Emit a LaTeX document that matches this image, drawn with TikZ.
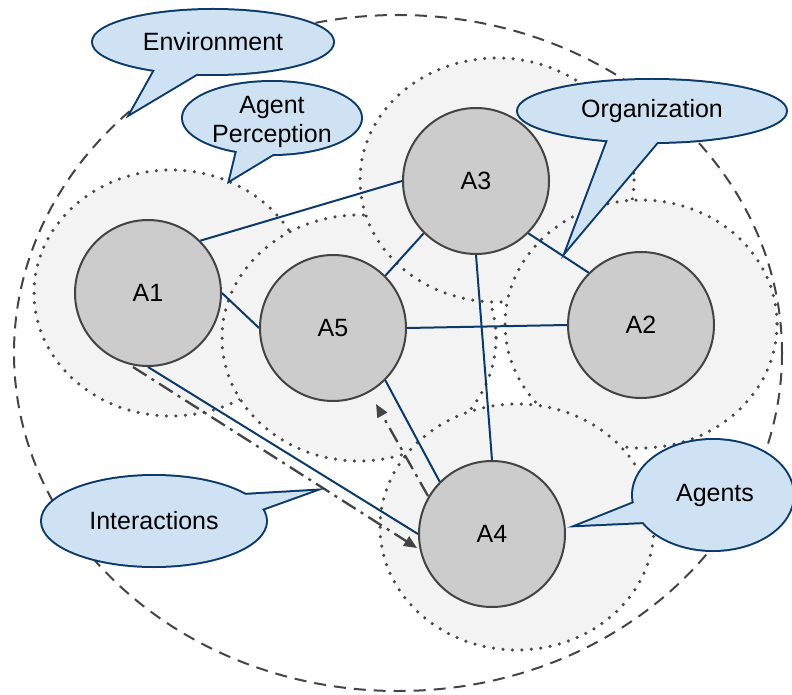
\documentclass[tikz,border=0pt]{standalone}
\usepackage{fontspec}
\setmainfont{Liberation Sans}
\usetikzlibrary{arrows.meta}
\definecolor{navy}{HTML}{0B3A6A}
\definecolor{agentfill}{HTML}{CCCCCC}
\definecolor{agentline}{HTML}{444444}
\definecolor{regionfill}{HTML}{F3F3F3}
\definecolor{dotcol}{HTML}{484848}
\definecolor{callfill}{HTML}{CFE2F3}
\definecolor{envcol}{HTML}{444444}
\begin{document}
\begin{tikzpicture}[x=1pt,y=-1pt,
  agent/.style={circle,draw=agentline,line width=2pt,fill=agentfill,minimum size=146pt,inner sep=0pt,font=\fontsize{25}{30}\selectfont},
  region/.style={fill=regionfill,draw=dotcol,line width=3.5pt,line cap=round,dash pattern=on 0pt off 9.5pt},
  link/.style={draw=navy,line width=2pt},
  flow/.style={draw=envcol,line width=2.3pt,dash pattern=on 16pt off 6pt on 3pt off 6pt,-{Triangle[length=13pt,width=11pt]}},
  cout/.style={draw=navy,line width=4pt,line join=miter},
  cfill/.style={fill=callfill},
  ctext/.style={font=\fontsize{25}{29}\selectfont,align=center,inner sep=0pt}]
\useasboundingbox (0,0) rectangle (792,695);
% environment
\draw[envcol,line width=2pt,dash pattern=on 12pt off 8pt] (398,353) ellipse [x radius=384, y radius=338];
% perception regions
\draw[region] (171,293) ellipse [x radius=137, y radius=123];
\draw[region] (359,338) ellipse [x radius=137, y radius=123];
\draw[region] (497,180) ellipse [x radius=137, y radius=122];
\draw[region] (641,324) ellipse [x radius=136, y radius=124];
\draw[region] (517,527) ellipse [x radius=137, y radius=123];
% agents
\node[agent] (A1) at (148,293) {A1};
\node[agent] (A3) at (476,181) {A3};
\node[agent] (A5) at (333,328) {A5};
\node[agent] (A2) at (641,325) {A2};
\node[agent] (A4) at (492,534) {A4};
% links
\draw[link] (A1.45) -- (A3.west);
\draw[link] (A1.east) -- (A5.west);
\draw[link] (A3.south west) -- (A5.north east);
\draw[link] (A5.east) -- (A2.west);
\draw[link] (A3.south east) -- (A2.north west);
\draw[link] (A3.south) -- (A4.north);
\draw[link] (A5.south east) -- (A4.north west);
\draw[link] (A1.south) -- (A4.west);
% interaction arrows
\coordinate (p1s) at (133,367);
\coordinate (p1e) at (417,548);
\coordinate (p2s) at (428,496);
\coordinate (p2e) at (376,404);
\draw[flow] (p1s) -- (p1e);
\draw[flow] (p2s) -- (p2e);
% callout: Environment
\draw[cout] (155,70) -- (131,113) -- (198,73);
\draw[cout] (213,42) ellipse [x radius=120, y radius=32];
\fill[cfill] (155,70) -- (131,113) -- (198,73) -- cycle;
\fill[cfill] (213,42) ellipse [x radius=120, y radius=32];
\node[ctext] (env) at (213,42) {Environment};
% callout: Agent Perception
\draw[cout] (237,151) -- (230,180) -- (273,154);
\draw[cout] (272,118) ellipse [x radius=89, y radius=36];
\fill[cfill] (237,151) -- (230,180) -- (273,154) -- cycle;
\fill[cfill] (272,118) ellipse [x radius=89, y radius=36];
\node[ctext] (perc) at (272,122) {Agent\\Perception};
% callout: Organization
\draw[cout] (608,140) -- (567,249) -- (658,141);
\draw[cout] (652,111) ellipse [x radius=134, y radius=31];
\fill[cfill] (608,140) -- (567,249) -- (658,141) -- cycle;
\fill[cfill] (652,111) ellipse [x radius=134, y radius=31];
\node[ctext] (org) at (652,111) {Organization};
% callout: Agents
\draw[cout] (634,503) -- (579,525) -- (645,522);
\draw[cout] (713,495) ellipse [x radius=80, y radius=55];
\fill[cfill] (634,503) -- (579,525) -- (645,522) -- cycle;
\fill[cfill] (713,495) ellipse [x radius=80, y radius=55];
\node[ctext] (agents) at (715,495) {Agents};
% callout: Interactions
\draw[cout] (243,495) -- (312,491) -- (262,509);
\draw[cout] (154,521) ellipse [x radius=112, y radius=45];
\fill[cfill] (243,495) -- (312,491) -- (262,509) -- cycle;
\fill[cfill] (154,521) ellipse [x radius=112, y radius=45];
\node[ctext] (inter) at (154,521) {Interactions};
\end{tikzpicture}
\end{document}
